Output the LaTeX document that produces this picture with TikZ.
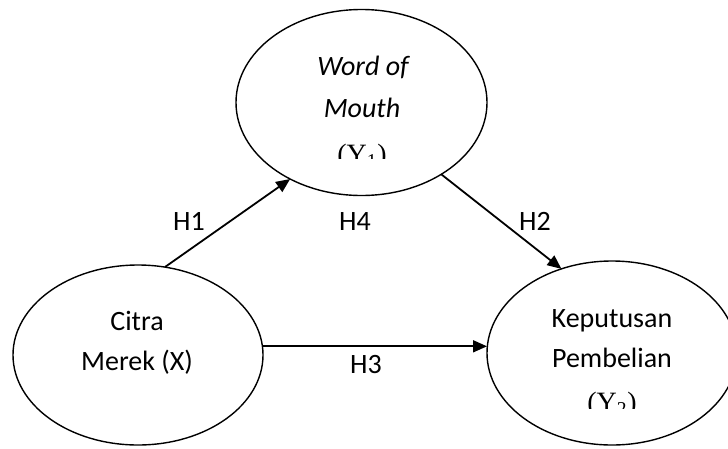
\documentclass[tikz,border=0pt]{standalone}
\usepackage{fontspec}
\setmainfont{Carlito}
\newfontfamily\timesf{Liberation Serif}
\usetikzlibrary{shapes.geometric,arrows.meta}
\tikzset{
  var/.style={draw=black, line width=1.4pt, ellipse, inner sep=0pt, outer sep=0pt},
  txt/.style={anchor=base, font=\fontsize{28}{34}\selectfont, inner sep=0pt},
  ytxt/.style={anchor=base, font=\fontsize{28}{34}\selectfont\timesf, inner sep=0pt},
  hlab/.style={anchor=base, font=\fontsize{28}{34}\selectfont, inner sep=0pt},
  arr/.style={line width=1.8pt, -{Triangle[length=14pt,width=12pt]}}
}
\begin{document}
\begin{tikzpicture}[x=1pt,y=-1pt]
\useasboundingbox (0,0) rectangle (728,448);
% variables
\node[var, minimum width=251pt, minimum height=186pt] (T) at (361.5,102.5) {};
\node[var, minimum width=250pt, minimum height=180pt] (L) at (138,355) {};
\node[var, minimum width=250pt, minimum height=184pt] (R) at (612,353) {};
% texts
\node[txt] (t1) at (363,75) {\itshape Word of};
\node[txt] (t2) at (362,117) {\itshape Mouth};
\begin{scope}
\clip (300,120) rectangle (420,158);
\node[ytxt] (t3) at (362,163.5) {(Y\textsubscript{1})};
\end{scope}
\node[txt] (l1) at (137,330) {Citra};
\node[txt] (l2) at (137,370) {Merek (X)};
\node[txt] (r1) at (612,327) {Keputusan};
\node[txt] (r2) at (612,367) {Pembelian};
\begin{scope}
\clip (550,370) rectangle (680,408);
\node[ytxt] (r3) at (612,411.5) {(Y\textsubscript{2})};
\end{scope}
% connectors
\draw[arr] (L.73) -- (T.227);
\draw[arr] (T.318) -- (R.121);
\draw[arr] (L.4) -- (L.4 -| R.west);
% labels
\node[hlab] (h1) at (189,230) {H1};
\node[hlab] (h4) at (355,230) {H4};
\node[hlab] (h2) at (535,230) {H2};
\node[hlab] (h3) at (366,373) {H3};
\end{tikzpicture}
\end{document}
